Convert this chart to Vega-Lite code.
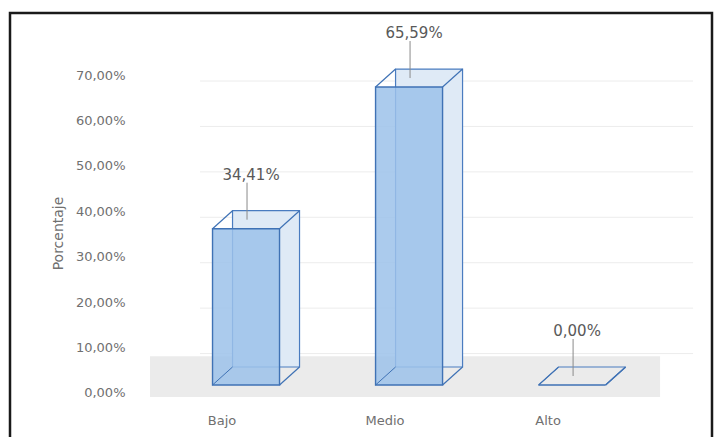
{
  "$schema": "https://vega.github.io/schema/vega-lite/v6.json",
  "width": 702,
  "height": 440,
  "autosize": {"type": "none"},
  "padding": {"left": 10, "top": 13, "right": 6, "bottom": 0},
  "background": "white",
  "config": {
    "view": {"stroke": "#1a1a1a", "strokeWidth": 2.5},
    "locale": {"number": {"decimal": ",", "thousands": ".", "grouping": [3], "currency": ["", " €"]}},
    "font": "DejaVu Sans"
  },
  "datasets": {
    "bars": [
      {"nivel": "Bajo", "valor": 0.3441},
      {"nivel": "Medio", "valor": 0.6559},
      {"nivel": "Alto", "valor": 0}
    ],
    "grid": [{"t": 0.1}, {"t": 0.2}, {"t": 0.3}, {"t": 0.4}, {"t": 0.5}, {"t": 0.6}, {"t": 0.7}],
    "floor": [{"a": -0.009, "b": 0.081}]
  },
  "layer": [
    {
      "data": {"name": "grid"},
      "mark": {"type": "rule", "color": "#ececec", "strokeWidth": 1, "xOffset": -22, "x2Offset": 145, "yOffset": 6, "y2Offset": 6},
      "encoding": {
        "x": {
          "datum": "Bajo", "type": "nominal", "title": null,
          "scale": {"domain": ["Bajo", "Medio", "Alto"], "paddingInner": 0, "paddingOuter": 0.653, "align": 0.613},
          "axis": {"orient": "bottom", "offset": -45, "domain": false, "ticks": false, "labelPadding": 6, "labelAngle": 0, "labelFontSize": 13, "labelColor": "#707070", "labelFont": "DejaVu Sans", "grid": false, "zindex": 1}
        },
        "x2": {"datum": "Alto"},
        "y": {
          "field": "t", "type": "quantitative", "title": "Porcentaje",
          "scale": {"domain": [-0.1321, 0.8365], "zero": false, "nice": false},
          "axis": {
            "orient": "left", "offset": -120, "values": [0, 0.1, 0.2, 0.3, 0.4, 0.5, 0.6, 0.7],
            "format": ".2%", "grid": false, "domain": false, "ticks": false, "labelPadding": 5,
            "labelFontSize": 13, "labelColor": "#707070", "labelFont": "DejaVu Sans", "zindex": 1,
            "titleFontSize": 14, "titleColor": "#707070", "titleFontWeight": "normal", "titlePadding": 10, "titleFont": "DejaVu Sans"
          }
        },
        "y2": {"field": "t"}
      }
    },
    {
      "data": {"name": "floor"},
      "mark": {"type": "rect", "color": "#ebebeb", "xOffset": -72, "x2Offset": 112},
      "encoding": {
        "x": {"datum": "Bajo", "type": "nominal", "title": null},
        "x2": {"datum": "Alto"},
        "y": {"field": "a", "type": "quantitative", "title": "Porcentaje"},
        "y2": {"field": "b"}
      }
    },
    {
      "data": {"name": "bars"},
      "layer": [
        {
          "mark": {"type": "bar", "size": 67, "xOffset": 44, "yOffset": -26, "y2Offset": -26, "fill": "#dfeaf6", "stroke": "#4a7cc0", "strokeWidth": 1.2},
          "encoding": {
            "x": {"field": "nivel", "type": "nominal", "title": null},
            "y": {"field": "valor", "type": "quantitative", "title": "Porcentaje"},
            "y2": {"datum": 0}
          }
        },
        {
          "mark": {"type": "bar", "size": 67, "xOffset": 24, "yOffset": -8, "y2Offset": -8, "fill": "#9cc2ea", "fillOpacity": 0.85, "stroke": "#3f72b5", "strokeWidth": 1.4},
          "encoding": {
            "x": {"field": "nivel", "type": "nominal", "title": null},
            "y": {"field": "valor", "type": "quantitative", "title": "Porcentaje"},
            "y2": {"datum": 0}
          }
        },
        {
          "mark": {"type": "rule", "color": "#3f72b5", "strokeWidth": 1.2, "xOffset": -9.5, "x2Offset": 10.5, "yOffset": -8, "y2Offset": -26},
          "encoding": {
            "x": {"field": "nivel", "type": "nominal", "title": null},
            "x2": {"field": "nivel"},
            "y": {"field": "valor", "type": "quantitative", "title": "Porcentaje"},
            "y2": {"field": "valor"}
          }
        },
        {
          "mark": {"type": "rule", "color": "#3f72b5", "strokeWidth": 1.2, "xOffset": 57.5, "x2Offset": 77.5, "yOffset": -8, "y2Offset": -26},
          "encoding": {
            "x": {"field": "nivel", "type": "nominal", "title": null},
            "x2": {"field": "nivel"},
            "y": {"field": "valor", "type": "quantitative", "title": "Porcentaje"},
            "y2": {"field": "valor"}
          }
        },
        {
          "mark": {"type": "rule", "color": "#3f72b5", "strokeWidth": 1.2, "xOffset": 57.5, "x2Offset": 77.5, "yOffset": -8, "y2Offset": -26},
          "encoding": {
            "x": {"field": "nivel", "type": "nominal", "title": null},
            "x2": {"field": "nivel"},
            "y": {"datum": 0, "type": "quantitative", "title": "Porcentaje"},
            "y2": {"datum": 0}
          }
        },
        {
          "mark": {"type": "rule", "color": "#3f72b5", "strokeWidth": 1, "xOffset": -9.5, "x2Offset": 10.5, "yOffset": -8, "y2Offset": -26},
          "encoding": {
            "x": {"field": "nivel", "type": "nominal", "title": null},
            "x2": {"field": "nivel"},
            "y": {"datum": 0, "type": "quantitative", "title": "Porcentaje"},
            "y2": {"datum": 0}
          }
        },
        {
          "mark": {"type": "rule", "color": "#8a8a8a", "strokeWidth": 1, "xOffset": 25, "x2Offset": 25, "yOffset": -54, "y2Offset": -17},
          "encoding": {
            "x": {"field": "nivel", "type": "nominal", "title": null},
            "x2": {"field": "nivel"},
            "y": {"field": "valor", "type": "quantitative", "title": "Porcentaje"},
            "y2": {"field": "valor"}
          }
        },
        {
          "mark": {"type": "text", "xOffset": 29, "yOffset": -62, "fontSize": 15, "color": "#595959", "font": "DejaVu Sans", "baseline": "middle", "align": "center"},
          "encoding": {
            "x": {"field": "nivel", "type": "nominal", "title": null},
            "y": {"field": "valor", "type": "quantitative", "title": "Porcentaje"},
            "text": {"field": "valor", "type": "quantitative", "format": ".2%"}
          }
        }
      ]
    }
  ]
}
